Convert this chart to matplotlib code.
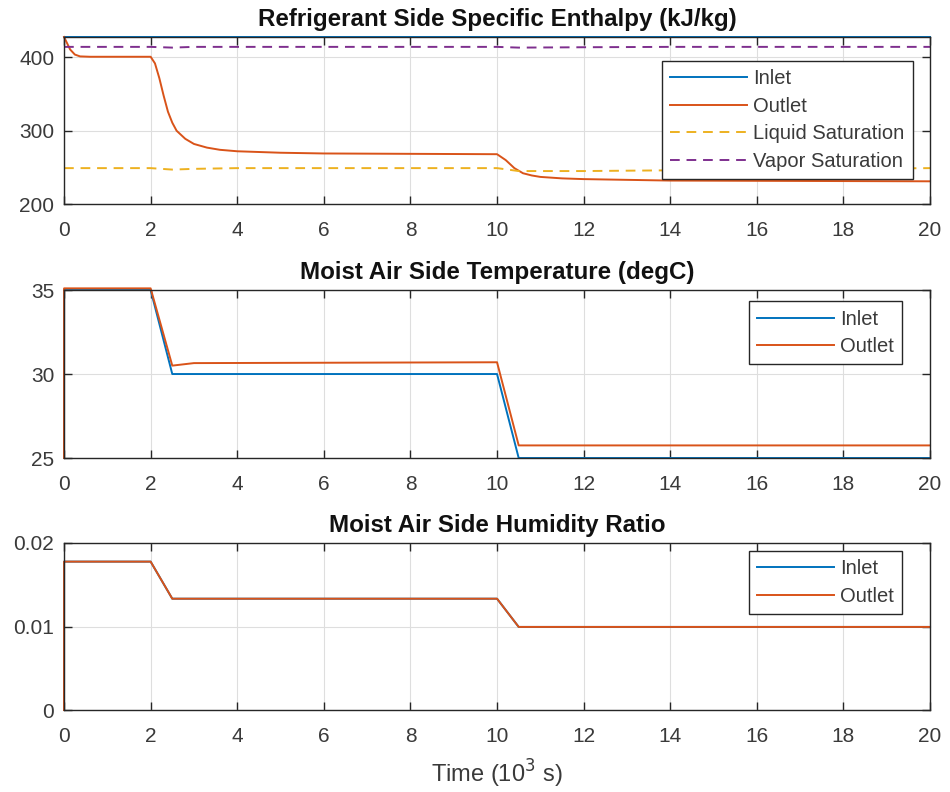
import numpy as np
import matplotlib
matplotlib.use("Agg")
import matplotlib.pyplot as plt

plt.rcParams['font.family'] = ['Liberation Sans', 'DejaVu Sans']

# MATLAB default colours
C_BLUE = '#0072BD'
C_ORANGE = '#D95319'
C_YELLOW = '#EDB120'
C_PURPLE = '#7E2F8E'
TXT = '#3a3a3a'

# ---- data (time in 10^3 s) ----
# refrigerant side enthalpy (kJ/kg)
t_inlet_h = [0, 20]
h_inlet = [427.5, 427.5]

t_outlet_h = [0, 0.05, 0.14, 0.25, 0.37, 0.6, 1.0, 2.0, 2.1, 2.2, 2.3, 2.4, 2.5, 2.6,
              2.8, 3.0, 3.3, 3.6, 4.0, 5.0, 6.0, 8.0, 10.0, 10.2, 10.4, 10.6, 10.8,
              11.0, 11.5, 12.0, 14.0, 20.0]
h_outlet = [428, 422, 411, 404, 401.5, 401, 401, 401, 392, 372, 348, 326, 311, 300,
            289, 282, 277, 274, 272, 270, 269, 268.5, 268, 260, 249, 242, 239,
            237, 235, 234, 232, 231]

t_sat = [0, 2.0, 2.5, 3.0, 4.0, 10.0, 10.5, 12.0, 14.0, 20.0]
h_liq = [249, 249, 247, 248, 249, 249, 245, 245, 246, 249]
h_vap = [414.5, 414.5, 413.5, 414.5, 414.5, 414.5, 413.5, 414, 414.5, 414.5]

# moist air temperature (degC)
t_air = [0, 0.001, 2.0, 2.5, 3.0, 10.0, 10.5, 20.0]
T_inlet = [25, 35.0, 35.0, 30.0, 30.0, 30.0, 25.0, 25.0]
T_outlet = [25, 35.1, 35.1, 30.5, 30.65, 30.7, 25.75, 25.75]

# moist air humidity ratio
w_inlet = [0, 0.01777, 0.01777, 0.01333, 0.01333, 0.01333, 0.00995, 0.00995]
w_outlet = [0, 0.01777, 0.01777, 0.01333, 0.01333, 0.01333, 0.00995, 0.00995]

fig = plt.figure(figsize=(9.5, 7.92), dpi=100)

L, W = 0.0674, 0.9116
ax1 = fig.add_axes([L, 0.7424, W, 0.2109])
ax2 = fig.add_axes([L, 0.4217, W, 0.2121])
ax3 = fig.add_axes([L, 0.1035, W, 0.2109])


def style(ax, title):
    ax.set_xlim(0, 20)
    ax.set_xticks(np.arange(0, 21, 2))
    ax.grid(True, color='#dedede', linewidth=0.8)
    ax.set_axisbelow(True)
    ax.tick_params(direction='in', top=True, right=True, length=6, width=1.0,
                   colors='#262626', labelcolor=TXT, labelsize=15, pad=7)
    ax.tick_params(axis='x', pad=12)
    for sp in ax.spines.values():
        sp.set_color('#262626')
        sp.set_linewidth(1.0)
    ax.set_title(title, fontsize=17.4, fontweight='bold', color='#111111', pad=8)


lw = 1.4
dash = (0, (5, 3.5))

# top panel
ax1.plot(t_inlet_h, h_inlet, color=C_BLUE, lw=lw, label='Inlet', clip_on=False)
ax1.plot(t_outlet_h, h_outlet, color=C_ORANGE, lw=lw, label='Outlet', clip_on=False)
ax1.plot(t_sat, h_liq, color=C_YELLOW, lw=lw, ls=dash, label='Liquid Saturation')
ax1.plot(t_sat, h_vap, color=C_PURPLE, lw=lw, ls=dash, label='Vapor Saturation')
ax1.set_ylim(200, 428)
ax1.set_yticks([200, 300, 400])
style(ax1, 'Refrigerant Side Specific Enthalpy (kJ/kg)')

# middle panel
ax2.plot(t_air, T_inlet, color=C_BLUE, lw=lw, label='Inlet', clip_on=False)
ax2.plot(t_air, T_outlet, color=C_ORANGE, lw=lw, label='Outlet', clip_on=False)
ax2.set_ylim(25, 35)
ax2.set_yticks([25, 30, 35])
style(ax2, 'Moist Air Side Temperature (degC)')

# bottom panel
ax3.plot(t_air, w_inlet, color=C_BLUE, lw=lw, label='Inlet', clip_on=False)
ax3.plot(t_air, w_outlet, color=C_ORANGE, lw=lw, label='Outlet', clip_on=False)
ax3.set_ylim(0, 0.02)
ax3.set_yticks([0, 0.01, 0.02])
ax3.set_yticklabels(['0', '0.01', '0.02'])
style(ax3, 'Moist Air Side Humidity Ratio')
ax3.set_xlabel('Time (10$^3$ s)', fontsize=17, color=TXT, labelpad=9)

anchors = {ax1: (0.980, 0.856), ax2: (0.968, 0.934), ax3: (0.968, 0.952)}
for ax in (ax1, ax2, ax3):
    leg = ax.legend(loc='upper right', bbox_to_anchor=anchors[ax], borderaxespad=0,
                    fontsize=14.5, handlelength=3.8, handletextpad=0.3,
                    borderpad=0.42, labelspacing=0.42, fancybox=False, framealpha=1)
    leg.get_frame().set_edgecolor('#262626')
    leg.get_frame().set_linewidth(1.0)
    for txt in leg.get_texts():
        txt.set_color(TXT)

fig.savefig('out.png', dpi=100)
